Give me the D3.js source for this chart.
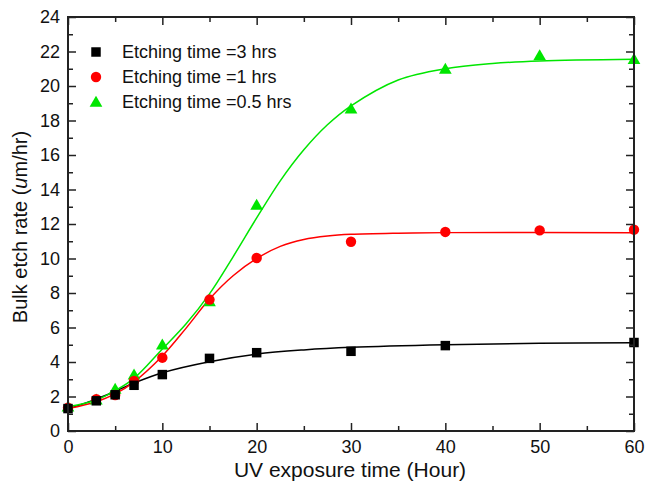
<!DOCTYPE html>
<html><head><meta charset="utf-8">
<script src="https://cdn.jsdelivr.net/npm/d3@7"></script>
<style>body{margin:0;background:#fff}svg{display:block}text{font-family:"Liberation Sans",Arial,sans-serif}</style>
</head><body><svg id="c" width="648" height="484"></svg>
<script>
// Measured points
const seriesNames = ["Etching time =3 hrs", "Etching time =1 hrs", "Etching time =0.5 hrs"];
const seriesColors = ["#000000", "#ff0000", "#00e600"];
const x3h = [0, 3, 5, 7, 10, 15, 20, 30, 40, 60];
const y3h = [1.3, 1.75, 2.1, 2.65, 3.27, 4.21, 4.54, 4.62, 4.95, 5.13];
const x1h = [0, 3, 5, 7, 10, 15, 20, 30, 40, 50, 60];
const y1h = [1.35, 1.85, 2.09, 2.9, 4.25, 7.62, 10.03, 10.97, 11.54, 11.63, 11.67];
const x05h = [0, 3, 5, 7, 10, 15, 20, 30, 40, 50, 60];
const y05h = [1.4, 1.8, 2.43, 3.25, 5.0, 7.5, 13.1, 18.67, 20.98, 21.76, 21.55];
// Fitted curves
const fitX3h = [0, 3, 5, 7, 10, 15, 20, 25, 30, 40, 50, 60];
const fitY3h = [1.28, 1.85, 2.3, 2.78, 3.38, 4.02, 4.46, 4.7, 4.85, 5.0, 5.08, 5.12];
const fitX1h = [0, 3, 5, 7, 10, 12.5, 15, 17.5, 20, 22.5, 25, 27.5, 30, 35, 40, 60];
const fitY1h = [1.3, 1.7, 2.15, 2.85, 4.35, 5.95, 7.65, 9.0, 10.0, 10.7, 11.1, 11.3, 11.4, 11.47, 11.5, 11.5];
const fitX05h = [0, 3, 5, 7, 10, 12.5, 15, 17.5, 20, 22.5, 25, 27.5, 30, 35, 40, 45, 50, 60];
const fitY05h = [1.4, 1.8, 2.34, 3.05, 4.75, 6.2, 7.95, 10.1, 12.35, 14.5, 16.3, 17.75, 18.85, 20.35, 21.0, 21.3, 21.45, 21.55];
const xTicks = [0, 10, 20, 30, 40, 50, 60];
const yTicks = [0, 2, 4, 6, 8, 10, 12, 14, 16, 18, 20, 22, 24];

const svg = d3.select("#c");
const L = 68, R = 634, T = 17, B = 431;
const x = d3.scaleLinear().domain([0, 60]).range([L, R]);
const y = d3.scaleLinear().domain([0, 24]).range([B, T]);
const axCol = "#222";

// curves
const line = d3.line().x(d => x(d[0])).y(d => y(d[1])).curve(d3.curveCatmullRom.alpha(0.5));
const fits = [[fitX3h, fitY3h], [fitX1h, fitY1h], [fitX05h, fitY05h]];
fits.forEach((f, i) => {
  svg.append("path").attr("d", line(f[0].map((v, j) => [v, f[1][j]])))
    .attr("fill", "none").attr("stroke", seriesColors[i]).attr("stroke-width", 1.5);
});

// markers
const pts = [[x3h, y3h], [x1h, y1h], [x05h, y05h]];
const symType = [d3.symbolSquare, d3.symbolCircle, d3.symbolTriangle];
const symSize = [90, 85, 70];
function drawSym(g, i, cx, cy) {
  g.append("path").attr("d", d3.symbol().type(symType[i]).size(symSize[i])())
    .attr("transform", `translate(${cx},${cy + (i === 2 ? 1 : 0)})`).attr("fill", seriesColors[i]);
}
[2, 1, 0].forEach(i => {
  pts[i][0].forEach((xv, j) => drawSym(svg, i, x(xv), y(pts[i][1][j])));
});

// axes frame
svg.append("rect").attr("x", L).attr("y", T).attr("width", R - L).attr("height", B - T)
  .attr("fill", "none").attr("stroke", axCol).attr("stroke-width", 2);

const fmt = d3.format("d");
const xMinor = d3.range(5, 60, 10);
const yMinor = d3.range(1, 24, 2);
const gx = svg.append("g").attr("transform", `translate(0,${B})`)
  .call(d3.axisBottom(x).tickValues(xTicks).tickSizeInner(-8).tickSizeOuter(0).tickPadding(9).tickFormat(fmt));
const gy = svg.append("g").attr("transform", `translate(${L},0)`)
  .call(d3.axisLeft(y).tickValues(yTicks).tickSizeInner(-8).tickSizeOuter(0).tickPadding(8).tickFormat(fmt));
svg.append("g").attr("transform", `translate(0,${T})`)
  .call(d3.axisTop(x).tickValues(xTicks).tickSizeInner(-8).tickSizeOuter(0).tickFormat(""));
svg.append("g").attr("transform", `translate(${R},0)`)
  .call(d3.axisRight(y).tickValues(yTicks).tickSizeInner(-8).tickSizeOuter(0).tickFormat(""));
svg.append("g").attr("transform", `translate(0,${B})`).call(d3.axisBottom(x).tickValues(xMinor).tickSize(-5).tickFormat(""));
svg.append("g").attr("transform", `translate(0,${T})`).call(d3.axisTop(x).tickValues(xMinor).tickSize(-5).tickFormat(""));
svg.append("g").attr("transform", `translate(${L},0)`).call(d3.axisLeft(y).tickValues(yMinor).tickSize(-5).tickFormat(""));
svg.append("g").attr("transform", `translate(${R},0)`).call(d3.axisRight(y).tickValues(yMinor).tickSize(-5).tickFormat(""));
svg.selectAll(".domain").remove();
svg.selectAll(".tick line").attr("stroke", axCol).attr("stroke-width", 1.5);
svg.selectAll(".tick text").attr("font-size", 18).attr("fill", "#111").attr("font-family", "Liberation Sans, Arial, sans-serif");

// axis titles
svg.append("text").attr("x", 350).attr("y", 477).attr("text-anchor", "middle")
  .attr("font-size", 21).attr("fill", "#111").text("UV exposure time (Hour)");
const yt = svg.append("text").attr("transform", `translate(27,${227}) rotate(-90)`)
  .attr("text-anchor", "middle").attr("font-size", 20).attr("fill", "#111");
yt.append("tspan").text("Bulk etch rate (");
yt.append("tspan").attr("font-style", "italic").text("u");
yt.append("tspan").text("m/hr)");

// legend
const legY = [52, 77, 102];
seriesNames.forEach((n, i) => {
  drawSym(svg, i, 96, legY[i]);
  svg.append("text").attr("x", 122).attr("y", legY[i]).attr("dy", "0.35em")
    .attr("font-size", 18).attr("fill", "#111").text(n);
});
</script></body></html>
